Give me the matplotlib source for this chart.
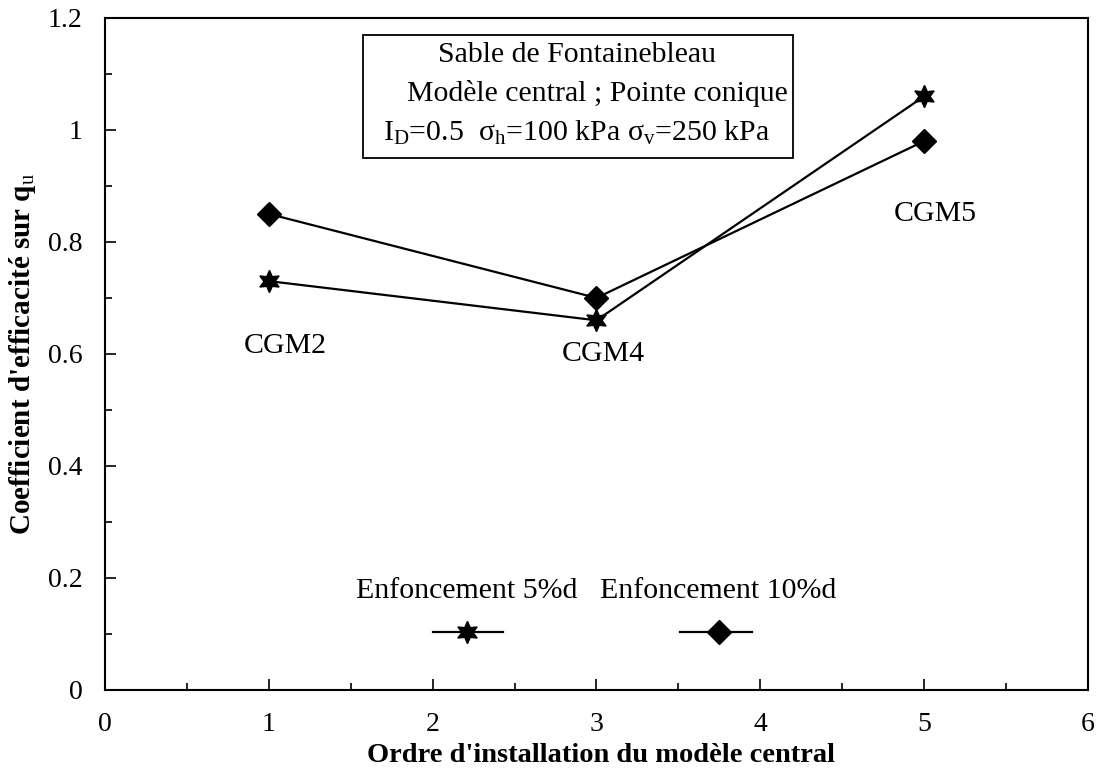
import matplotlib
matplotlib.use("Agg")
import matplotlib.pyplot as plt
from matplotlib.ticker import MultipleLocator

plt.rcParams['font.family'] = ['Liberation Serif', 'DejaVu Serif']
plt.rcParams['mathtext.fontset'] = 'custom'
plt.rcParams['mathtext.rm'] = 'Liberation Serif'
plt.rcParams['mathtext.it'] = 'Liberation Serif'

# ordre d'installation et coefficients d'efficacite
ordre = [1, 3, 5]
coef_5 = [0.73, 0.66, 1.06]
coef_10 = [0.85, 0.70, 0.98]
noms = ["CGM2", "CGM4", "CGM5"]
pos_noms = [(1.1, 0.615), (3.04, 0.60), (5.07, 0.85)]

fig = plt.figure(figsize=(10.99, 7.77), dpi=100)
ax = fig.add_axes([0.0955, 0.112, 0.8945, 0.865])

etoile = (6, 1, 0)
ax.plot(ordre, coef_5, color='black', lw=1.6, marker=etoile, ms=16, mfc='black', mec='black')
ax.plot(ordre, coef_10, color='black', lw=1.6, marker='D', ms=12, mfc='black', mec='black')

for nom, (xp, yp) in zip(noms, pos_noms):
    ax.text(xp, yp, nom, ha='center', va='center', fontsize=21.5)

# legende dessinee a la main
ax.text(2.21, 0.176, "Enfoncement 5%d", ha='center', va='center', fontsize=21.5)
ax.text(3.74, 0.176, "Enfoncement 10%d", ha='center', va='center', fontsize=21.5)
ax.plot([2.0, 2.43], [0.104, 0.104], color='black', lw=1.6)
ax.plot([2.21], [0.104], color='black', marker=etoile, ms=16)
ax.plot([3.51, 3.95], [0.104, 0.104], color='black', lw=1.6)
ax.plot([3.75], [0.104], color='black', marker='D', ms=12)

# cadre des conditions d'essai
ax.text(0.480, 0.945, "Sable de Fontainebleau", transform=ax.transAxes,
        ha='center', va='center', fontsize=21.5)
ax.text(0.5005, 0.888, "Modèle central ; Pointe conique", transform=ax.transAxes,
        ha='center', va='center', fontsize=21.5)
ax.text(0.480, 0.829, r"I$_\mathrm{D}$=0.5  σ$_\mathrm{h}$=100 kPa σ$_\mathrm{v}$=250 kPa",
        transform=ax.transAxes, ha='center', va='center', fontsize=21.5)
cadre = plt.Rectangle((0.262, 0.792), 0.438, 0.183, transform=ax.transAxes,
                      fill=False, ec='black', lw=1.3)
ax.add_patch(cadre)

ax.set_xlim(0, 6)
ax.set_ylim(0, 1.2)
ax.xaxis.set_major_locator(MultipleLocator(1))
ax.xaxis.set_minor_locator(MultipleLocator(0.5))
ax.yaxis.set_minor_locator(MultipleLocator(0.1))
ax.set_yticks([0, 0.2, 0.4, 0.6, 0.8, 1, 1.2])
ax.set_yticklabels(["0", "0.2", "0.4", "0.6", "0.8", "1", "1.2"])
ax.tick_params(which='both', direction='in', labelsize=20, width=1.2)
ax.tick_params(which='major', length=8)
ax.tick_params(which='minor', length=5)
ax.tick_params(axis='x', which='major', pad=16)
ax.tick_params(axis='y', which='major', pad=16)
for s in ax.spines.values():
    s.set_linewidth(1.5)

ax.set_xlabel("Ordre d'installation du modèle central", fontsize=20.5, fontweight='bold')
ax.set_ylabel(r"Coefficient d'efficacité sur q$_\mathrm{u}$", fontsize=21, fontweight='bold')
ax.xaxis.set_label_coords(0.505, -0.079)
ax.yaxis.set_label_coords(-0.068, 0.5)

fig.savefig("out.png", dpi=100)
